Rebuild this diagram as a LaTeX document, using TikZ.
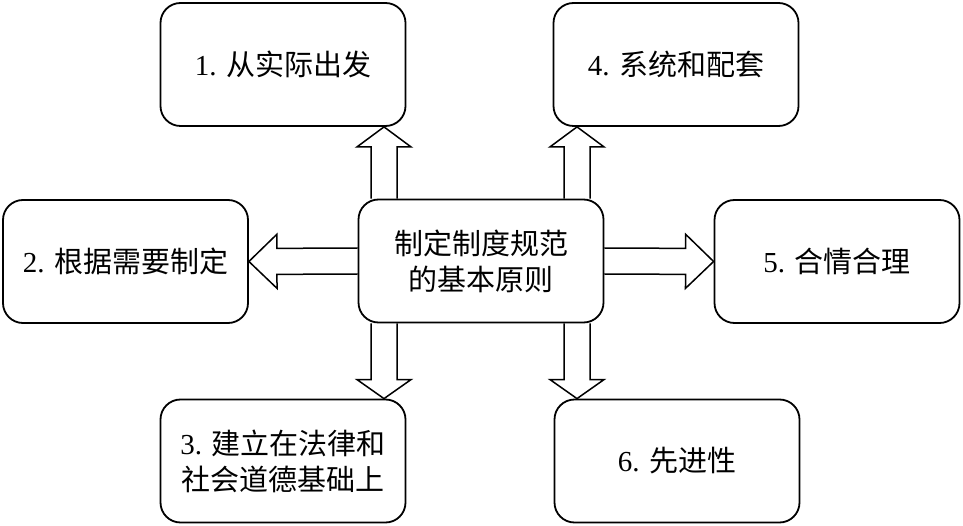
\documentclass[tikz,border=0pt]{standalone}
\usepackage{fontspec}
\setmainfont{Liberation Serif}
\newfontfamily\cjk{Noto Sans CJK SC}
\usetikzlibrary{calc}
\tikzset{
  box/.style={draw,line width=1.8pt,rounded corners=20pt,minimum width=245pt,
    minimum height=123pt,align=center,font=\fontsize{29}{36}\selectfont},
  hollow/.style={line width=1.5pt,line join=miter,to path={
    let \p3=($(\tikztotarget)!#1!(\tikztostart)$) in
    ($(\tikztostart)!13pt!90:(\tikztotarget)$) -- ($(\p3)!13pt!90:(\tikztotarget)$) --
    ($(\p3)!27pt!90:(\tikztotarget)$) -- (\tikztotarget) --
    ($(\p3)!27pt!-90:(\tikztotarget)$) -- ($(\p3)!13pt!-90:(\tikztotarget)$) --
    ($(\tikztostart)!13pt!-90:(\tikztotarget)$)}},
  hollow/.default=22pt
}
\begin{document}
\begin{tikzpicture}[x=1pt,y=-1pt]
\useasboundingbox (0,0) rectangle (963,526);
\node[box] (c)  at (481,261)   {\cjk 制定制度规范\\\cjk 的基本原则};
\node[box] (b1) at (283,64.5)  {1. {\cjk 从实际出发}};
\node[box] (b2) at (125.5,261.5) {2. {\cjk 根据需要制定}};
\node[box] (b3) at (283,461)   {3. {\cjk 建立在法律和}\\{\cjk 社会道德基础上}};
\node[box] (b4) at (676,64.5)  {4. {\cjk 系统和配套}};
\node[box] (b5) at (837,261.5) {5. {\cjk 合情合理}};
\node[box] (b6) at (677,461)   {6. {\cjk 先进性}};
% block arrows out of the middle box
\draw[hollow=20pt] ($(c.north)+(-97,0)$) to ($(b1.south)+(101,0)$);
\draw[hollow=20pt] ($(c.north)+(96,0)$) to ($(b4.south)+(-99,0)$);
\draw[hollow=28pt] (c.west) to (b2.east);
\draw[hollow=28pt] (c.east) to (b5.west);
\draw[hollow=19pt] ($(c.south)+(-97,0)$) to ($(b3.north)+(101,0)$);
\draw[hollow=19pt] ($(c.south)+(96,0)$) to ($(b6.north)+(-100,0)$);
\end{tikzpicture}
\end{document}
